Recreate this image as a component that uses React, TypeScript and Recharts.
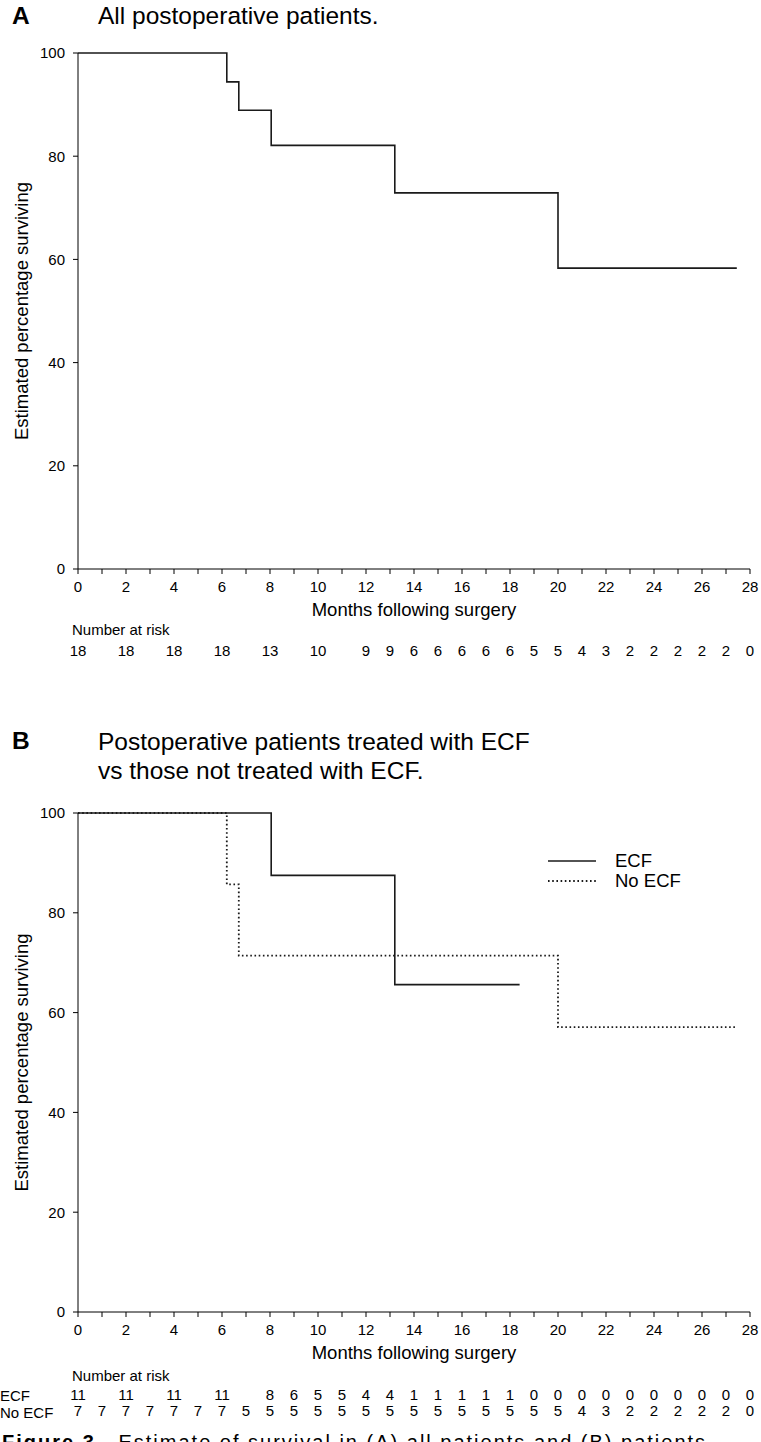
import { Label, Line, LineChart, XAxis, YAxis } from "recharts";

// Kaplan-Meier estimates (time in months, survival in %)
const survAll = [
  { t: 0, s: 100 },
  { t: 6.2, s: 94.4 },
  { t: 6.7, s: 88.9 },
  { t: 8.05, s: 82.1 },
  { t: 13.2, s: 72.9 },
  { t: 20.0, s: 58.3 },
  { t: 27.45, s: 58.3 },
];

const survEcf = [
  { t: 0, s: 100 },
  { t: 8.05, s: 87.5 },
  { t: 13.2, s: 65.6 },
  { t: 18.4, s: 65.6 },
];

const survNoEcf = [
  { t: 0, s: 100 },
  { t: 6.2, s: 85.7 },
  { t: 6.7, s: 71.4 },
  { t: 20.0, s: 57.1 },
  { t: 27.45, s: 57.1 },
];

const monthTicks = [0, 1, 2, 3, 4, 5, 6, 7, 8, 9, 10, 11, 12, 13, 14, 15, 16, 17, 18, 19, 20, 21, 22, 23, 24, 25, 26, 27, 28];
const pctTicks = [0, 20, 40, 60, 80, 100];

// number at risk tables
const riskMonthsAll = [0, 2, 4, 6, 8, 10, 12, 13, 14, 15, 16, 17, 18, 19, 20, 21, 22, 23, 24, 25, 26, 27, 28];
const riskAll = [18, 18, 18, 18, 13, 10, 9, 9, 6, 6, 6, 6, 6, 5, 5, 4, 3, 2, 2, 2, 2, 2, 0];

const riskMonthsEcf = [0, 2, 4, 6, 8, 9, 10, 11, 12, 13, 14, 15, 16, 17, 18, 19, 20, 21, 22, 23, 24, 25, 26, 27, 28];
const riskEcf = [11, 11, 11, 11, 8, 6, 5, 5, 4, 4, 1, 1, 1, 1, 1, 0, 0, 0, 0, 0, 0, 0, 0, 0, 0];

const riskMonthsNoEcf = [0, 1, 2, 3, 4, 5, 6, 7, 8, 9, 10, 11, 12, 13, 14, 15, 16, 17, 18, 19, 20, 21, 22, 23, 24, 25, 26, 27, 28];
const riskNoEcf = [7, 7, 7, 7, 7, 7, 7, 5, 5, 5, 5, 5, 5, 5, 5, 5, 5, 5, 5, 5, 5, 4, 3, 2, 2, 2, 2, 2, 0];

const legendItems = ["ECF", "No ECF"];

const FONT = '"Liberation Sans", Arial, Helvetica, sans-serif';
const INK = "#000";
const LINE = "#1a1a1a";
const DOTS = "1.6 2.6";

const lookup = (months: number[], vals: number[]) => (v: number) => {
  const i = months.indexOf(v);
  return i < 0 ? "" : String(vals[i]);
};

const evenOnly = (v: number) => (v % 2 === 0 ? String(v) : "");

// left-aligned text placed relative to an axis box
function rowLabel(text: string, dy: number, x = 0) {
  return (props: any) => {
    const vb = props.viewBox ?? { x: 0, y: 0 };
    return (
      <text x={x} y={vb.y + dy} fontSize={15} fill={INK} textAnchor="start">
        {text}
      </text>
    );
  };
}

function mainAxes() {
  return [
    <YAxis
      key="y"
      type="number"
      domain={[0, 100]}
      ticks={pctTicks}
      interval={0}
      width={78}
      tickSize={5}
      tickMargin={8}
      stroke={INK}
      tick={{ fill: INK, fontSize: 15 }}
      label={{
        value: "Estimated percentage surviving",
        angle: -90,
        position: "insideLeft",
        offset: 21,
        fontSize: 18.5,
        fill: INK,
        style: { textAnchor: "middle" },
      }}
    />,
    <XAxis
      key="x"
      xAxisId="a_time"
      dataKey="t"
      type="number"
      domain={[0, 28]}
      ticks={monthTicks}
      interval={0}
      allowDataOverflow
      tickFormatter={evenOnly}
      tickSize={5}
      tickMargin={7}
      height={49}
      stroke={INK}
      tick={{ fill: INK, fontSize: 15 }}
      label={{ value: "Months following surgery", position: "insideBottom", offset: 2, fontSize: 18.5, fill: INK }}
    />,
  ];
}

function riskAxis(id: string, months: number[], vals: number[], height: number, margin: number, label?: string, labelDy = 17) {
  return (
    <XAxis
      key={id}
      xAxisId={id}
      dataKey="t"
      type="number"
      domain={[0, 28]}
      ticks={months}
      interval={0}
      allowDataOverflow
      tickFormatter={lookup(months, vals)}
      axisLine={false}
      tickLine={false}
      tickSize={0}
      tickMargin={margin}
      height={height}
      tick={{ fill: INK, fontSize: 15 }}
    >
      {label && <Label content={rowLabel(label, labelDy, 72)} />}
    </XAxis>
  );
}

export default function App() {
  return (
    <div style={{ position: "absolute", left: 0, top: 0, width: 761, height: 1442, overflow: "hidden", fontFamily: FONT, color: INK, background: "#fff" }}>
      <div style={{ position: "absolute", left: 12, top: 2, fontSize: 24.5, fontWeight: 700 }}>A</div>
      <div style={{ position: "absolute", left: 98, top: 2, fontSize: 24.5 }}>All postoperative patients.</div>

      <div style={{ position: "absolute", left: 0, top: 0 }}>
        <LineChart width={761} height={672} margin={{ top: 53, right: 11, left: 0, bottom: 0 }}>
          {mainAxes()}
          {riskAxis("b_riskAll", riskMonthsAll, riskAll, 54, 27, "Number at risk")}
          <Line xAxisId="a_time" data={survAll} dataKey="s" type="stepAfter" stroke={LINE} strokeWidth={1.6} dot={false} activeDot={false} isAnimationActive={false} />
        </LineChart>
      </div>

      <div style={{ position: "absolute", left: 12, top: 727, fontSize: 24.5, fontWeight: 700 }}>B</div>
      <div style={{ position: "absolute", left: 98, top: 727, fontSize: 24.5, lineHeight: "29px" }}>
        Postoperative patients treated with ECF
        <br />
        vs those not treated with ECF.
      </div>

      <div style={{ position: "absolute", left: 0, top: 700 }}>
        <LineChart width={761} height={720} margin={{ top: 113, right: 11, left: 0, bottom: 0 }}>
          {mainAxes()}
          {riskAxis("b_riskEcf", riskMonthsEcf, riskEcf, 41, 28, "Number at risk", 20)}
          {riskAxis("c_riskNoEcf", riskMonthsNoEcf, riskNoEcf, 18, 3)}
          <Line xAxisId="a_time" name="ECF" data={survEcf} dataKey="s" type="stepAfter" stroke={LINE} strokeWidth={1.6} dot={false} activeDot={false} isAnimationActive={false} />
          <Line xAxisId="a_time" name="No ECF" data={survNoEcf} dataKey="s" type="stepAfter" stroke={LINE} strokeWidth={1.8} strokeDasharray={DOTS} dot={false} activeDot={false} isAnimationActive={false} />
        </LineChart>
      </div>

      {/* legend for panel B */}
      <div style={{ position: "absolute", left: 548, top: 851, fontSize: 18.5 }}>
        {legendItems.map((name, i) => (
          <div key={name} style={{ display: "flex", alignItems: "center", height: 20 }}>
            <svg width={48} height={4} style={{ marginRight: 19 }}>
              <line x1={0} y1={2} x2={48} y2={2} stroke={LINE} strokeWidth={i === 0 ? 1.6 : 1.8} strokeDasharray={i === 0 ? undefined : DOTS} />
            </svg>
            <span>{name}</span>
          </div>
        ))}
      </div>

      <div style={{ position: "absolute", left: 0, top: 1387, fontSize: 15, lineHeight: "17px" }}>
        ECF
        <br />
        No ECF
      </div>

      <div style={{ position: "absolute", left: 2, top: 1431, fontSize: 20, letterSpacing: 2, whiteSpace: "nowrap" }}>
        <b>Figure 3</b>&nbsp;&nbsp; Estimate of survival in (A) all patients and (B) patients
      </div>
    </div>
  );
}
